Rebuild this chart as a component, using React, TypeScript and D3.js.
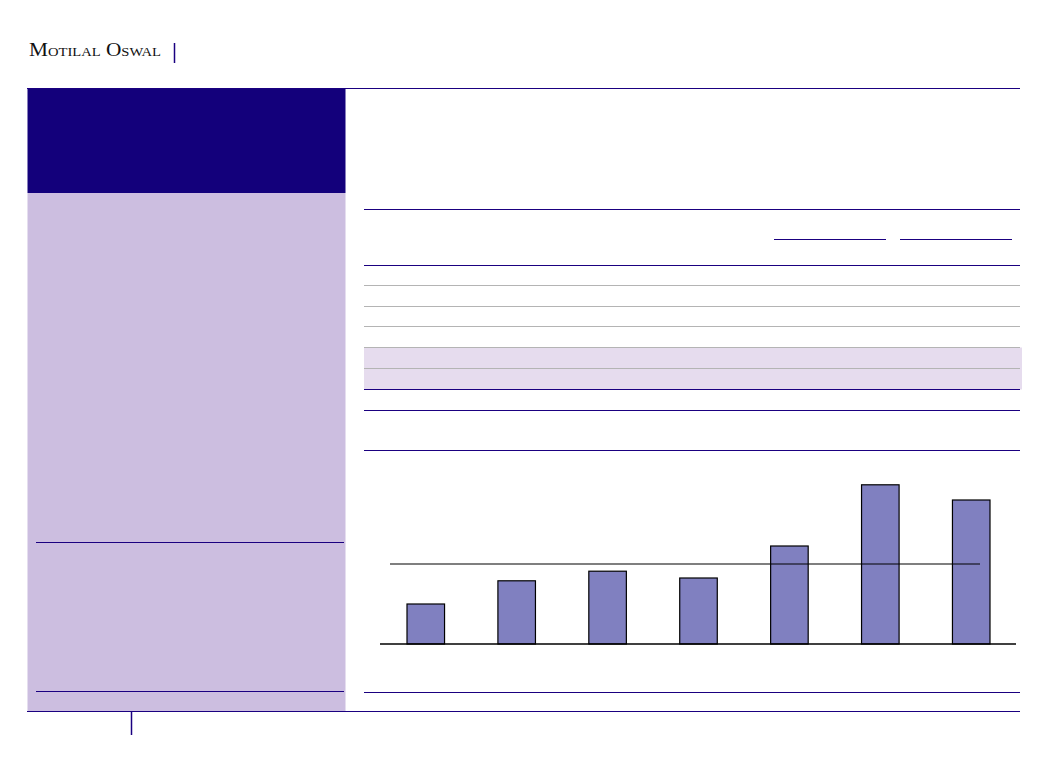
import React from "react";
import * as d3 from "d3";

const categories = ["C1", "C2", "C3", "C4", "C5", "C6", "C7"];
const values = [5.0, 7.9, 9.1, 8.25, 12.25, 19.9, 18.0];
const referenceValue = [10.0];
const brandText = ["Motilal Oswal"];

const NAVY = "#1a0080";
const DARK = "#13007b";
const PANEL = "#ccbee0";
const BAND = "#e6dcee";
const BAR = "#8080c0";
const GRAY = "#b4b4b4";

export default function App() {
  const W = 1057, H = 760;
  const x = d3.scaleBand<string>().domain(categories).range([407, 990]).paddingInner(0.587).paddingOuter(0);
  const y = d3.scaleLinear().domain([0, 20]).range([644, 484]);
  const tableLines = [
    { y: 209.5, c: NAVY },
    { y: 265.5, c: NAVY },
    { y: 285.5, c: GRAY },
    { y: 306.5, c: GRAY },
    { y: 326.5, c: GRAY },
    { y: 347.5, c: GRAY },
    { y: 368.5, c: GRAY },
    { y: 389.5, c: NAVY },
    { y: 410.5, c: NAVY },
    { y: 450.5, c: NAVY },
    { y: 692.5, c: NAVY },
  ];
  return (
    <svg width={W} height={H} style={{ position: "absolute", left: 0, top: 0, background: "#fff" }}>
      <text x={29} y={55.5} fontFamily="'Liberation Serif', serif" fontSize={19} fill="#111"
        style={{ fontVariant: "small-caps" }} textLength={132} lengthAdjust="spacingAndGlyphs">
        {brandText[0]}
      </text>
      <line x1={174.5} x2={174.5} y1={43} y2={63} stroke={NAVY} strokeWidth={1.5} />
      {/* left panel */}
      <rect x={27.5} y={89} width={318} height={104} fill={DARK} />
      <rect x={27.5} y={193} width={318} height={518} fill={PANEL} />
      <line x1={36} x2={344} y1={542.5} y2={542.5} stroke={NAVY} strokeWidth={1.2} />
      <line x1={36} x2={344} y1={691.5} y2={691.5} stroke={NAVY} strokeWidth={1.2} />
      {/* page frame lines */}
      <line x1={27} x2={1020} y1={88.5} y2={88.5} stroke={NAVY} strokeWidth={1.2} />
      <line x1={27} x2={1020} y1={711.5} y2={711.5} stroke={NAVY} strokeWidth={1.2} />
      <line x1={131.5} x2={131.5} y1={711} y2={735} stroke={NAVY} strokeWidth={1.5} />
      {/* table */}
      <rect x={364} y={347.5} width={658} height={42} fill={BAND} />
      {tableLines.map((l, i) => (
        <line key={i} x1={364} x2={1020} y1={l.y} y2={l.y} stroke={l.c} strokeWidth={l.c === NAVY ? 1.2 : 1} />
      ))}
      <line x1={774} x2={886} y1={239.5} y2={239.5} stroke={NAVY} strokeWidth={1.2} />
      <line x1={900} x2={1012} y1={239.5} y2={239.5} stroke={NAVY} strokeWidth={1.2} />
      {/* chart */}
      {categories.map((c, i) => (
        <rect key={c} x={x(c)!} y={y(values[i])} width={x.bandwidth()} height={y(0) - y(values[i])}
          fill={BAR} stroke="#000" strokeWidth={1.2} />
      ))}
      <line x1={390} x2={980} y1={y(referenceValue[0])} y2={y(referenceValue[0])} stroke="#000" strokeWidth={1.2} />
      <line x1={380} x2={1016} y1={y(0)} y2={y(0)} stroke="#000" strokeWidth={1.4} />
    </svg>
  );
}
